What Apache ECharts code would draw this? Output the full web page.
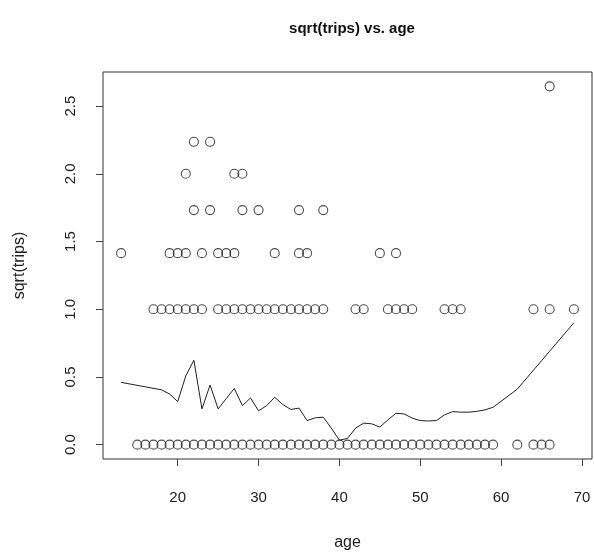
<!DOCTYPE html>
<html>
<head>
<meta charset="utf-8">
<script src="https://cdn.jsdelivr.net/npm/echarts@6/dist/echarts.min.js"></script>
<style>
  html, body { margin: 0; padding: 0; background: #fff; }
  #chart { width: 594px; height: 556px; }
</style>
</head>
<body>
<div id="chart"></div>
<script>
// Ages of respondents, grouped by number of trips taken
const agesTrips0 = [15, 16, 17, 18, 19, 20, 21, 22, 23, 24, 25, 26, 27, 28, 29, 30, 31, 32, 33, 34,
  35, 36, 37, 38, 39, 40, 41, 42, 43, 44, 45, 46, 47, 48, 49, 50, 51, 52, 53, 54, 55, 56, 57, 58, 59,
  62, 64, 65, 66];
const agesTrips1 = [17, 18, 19, 20, 21, 22, 23, 25, 26, 27, 28, 29, 30, 31, 32, 33, 34, 35, 36, 37, 38,
  42, 43, 46, 47, 48, 49, 53, 54, 55, 64, 66, 69];
const agesTrips2 = [13, 19, 20, 21, 23, 25, 26, 27, 32, 35, 36, 45, 47];
const agesTrips3 = [22, 24, 28, 30, 35, 38];
const agesTrips4 = [21, 27, 28];
const agesTrips5 = [22, 24];
const agesTrips7 = [66];

// Smoothed mean of sqrt(trips) by age
const lineAges = [13, 18, 19, 20, 21, 22, 23, 24, 25, 26, 27, 28, 29, 30, 31, 32, 33, 34, 35, 36, 37, 38,
  39, 40, 41, 42, 43, 44, 45, 46, 47, 48, 49, 50, 51, 52, 53, 54, 55, 56, 57, 58, 59, 62, 64, 65, 66, 69];
const lineValues = [0.46, 0.405, 0.374, 0.318, 0.508, 0.623, 0.264, 0.44, 0.264, 0.34, 0.415, 0.288, 0.345,
  0.25, 0.288, 0.35, 0.296, 0.26, 0.27, 0.178, 0.198, 0.203, 0.122, 0.033, 0.046, 0.122, 0.159, 0.154, 0.13,
  0.183, 0.232, 0.227, 0.196, 0.178, 0.175, 0.178, 0.22, 0.244, 0.24, 0.24, 0.246, 0.257, 0.276, 0.41,
  0.55, 0.62, 0.69, 0.9];

const xTicks = [20, 30, 40, 50, 60, 70];
const yTicks = [0, 0.5, 1, 1.5, 2, 2.5];

const tripGroups = [
  [0, agesTrips0], [1, agesTrips1], [2, agesTrips2], [3, agesTrips3],
  [4, agesTrips4], [5, agesTrips5], [7, agesTrips7]
];
const points = [];
tripGroups.forEach(([n, ages]) => ages.forEach(a => points.push([a, Math.sqrt(n)])));
const linePoints = lineAges.map((a, i) => [a, lineValues[i]]);

const ink = '#222';
const font = 'Liberation Sans, Arial, sans-serif';

const chart = echarts.init(document.getElementById('chart'));
chart.setOption({
  animation: false,
  backgroundColor: '#fff',
  title: {
    text: 'sqrt(trips) vs. age',
    left: 347,
    top: 16,
    textAlign: 'center',
    textStyle: { fontFamily: font, fontSize: 15, fontWeight: 'bold', color: '#111' }
  },
  grid: {
    left: 103, right: 2, top: 72, bottom: 94,
    show: true, borderColor: '#333', borderWidth: 1, backgroundColor: 'transparent'
  },
  xAxis: {
    type: 'value',
    min: 10.76, max: 71.24,
    name: 'age',
    nameLocation: 'middle',
    nameGap: 76,
    nameTextStyle: { fontFamily: font, fontSize: 16, color: '#222' },
    axisLine: { show: false, onZero: false },
    splitLine: { show: false },
    axisTick: { show: true, length: 7, customValues: xTicks, lineStyle: { color: '#444' } },
    axisLabel: {
      customValues: xTicks, margin: 31,
      fontFamily: font, fontSize: 15, color: '#222'
    }
  },
  yAxis: {
    type: 'value',
    min: -0.1058, max: 2.7516,
    name: 'sqrt(trips)',
    nameLocation: 'middle',
    nameRotate: 90,
    nameGap: 75,
    nameTextStyle: { fontFamily: font, fontSize: 16, color: '#222' },
    axisLine: { show: false, onZero: false },
    splitLine: { show: false },
    axisTick: { show: true, length: 7, customValues: yTicks, lineStyle: { color: '#444' } },
    axisLabel: {
      customValues: yTicks, margin: 25, rotate: 90,
      fontFamily: font, fontSize: 15, color: '#222',
      formatter: v => v.toFixed(1)
    }
  },
  series: [
    {
      type: 'scatter',
      data: points,
      symbol: 'circle',
      symbolSize: 9,
      itemStyle: { color: 'rgba(0,0,0,0)', borderColor: ink, borderWidth: 1.1 },
      z: 3
    },
    {
      type: 'line',
      data: linePoints,
      showSymbol: false,
      lineStyle: { color: ink, width: 1 },
      z: 2
    }
  ]
});
</script>
</body>
</html>
